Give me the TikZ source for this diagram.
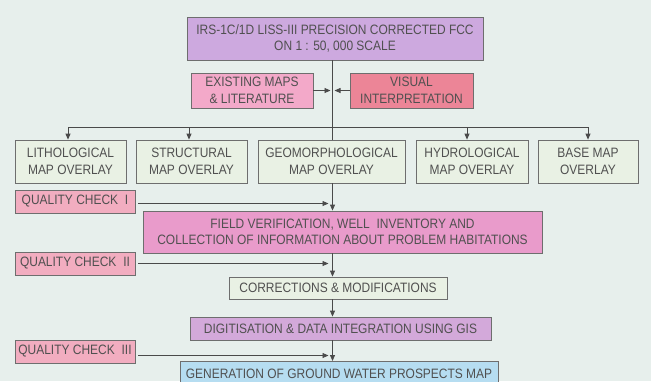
\documentclass[tikz,border=0pt]{standalone}
\usepackage{fontspec}
\setmainfont{Liberation Sans}[FakeStretch=0.88]
\usetikzlibrary{arrows.meta}
\definecolor{bg}{HTML}{E7EFEC}
\definecolor{lav}{HTML}{CDA9DF}
\definecolor{pinkA}{HTML}{F3A9C9}
\definecolor{redA}{HTML}{EC8597}
\definecolor{pale}{HTML}{E9F1E4}
\definecolor{qcpink}{HTML}{F2ADC0}
\definecolor{fieldc}{HTML}{E99BCB}
\definecolor{digi}{HTML}{D3A9DA}
\definecolor{genb}{HTML}{B6DDF1}
\definecolor{ink}{HTML}{4A4A4A}
\definecolor{txt}{HTML}{505050}
\tikzset{
  box/.style={draw=ink!80, line width=0.8pt, inner sep=0pt, align=center,
    text=txt, font=\fontsize{13.6}{16.5}\selectfont},
  conn/.style={draw=ink, line width=0.8pt},
  arr/.style={conn, -{Triangle[length=6pt,width=5pt]}},
}
\begin{document}
\begin{tikzpicture}[x=1pt,y=-1pt]
\useasboundingbox[fill=bg] (0,0) rectangle (651,381);
\begin{scope}
\clip (0,0) rectangle (651,381);
\node[box, fill=lav, minimum width=296pt, minimum height=43pt] (top) at (335,38.5)
  {IRS-1C/1D LISS-III PRECISION CORRECTED FCC\\ON 1 : 50, 000 SCALE};
\node[box, fill=pinkA, minimum width=122pt, minimum height=35pt] (exist) at (252,90.5)
  {EXISTING MAPS\\\& LITERATURE};
\node[box, fill=redA, minimum width=123pt, minimum height=35pt] (visual) at (411.5,90.5)
  {VISUAL\\INTERPRETATION};
\node[box, fill=pale, minimum width=111pt, minimum height=43pt] (litho) at (70.5,161.5)
  {LITHOLOGICAL\\MAP OVERLAY};
\node[box, fill=pale, minimum width=111pt, minimum height=43pt] (struct) at (191.5,161.5)
  {STRUCTURAL\\MAP OVERLAY};
\node[box, fill=pale, minimum width=147pt, minimum height=43pt] (geo) at (331.5,161.5)
  {GEOMORPHOLOGICAL\\MAP OVERLAY};
\node[box, fill=pale, minimum width=112pt, minimum height=43pt] (hydro) at (472,161.5)
  {HYDROLOGICAL\\MAP OVERLAY};
\node[box, fill=pale, minimum width=100pt, minimum height=43pt] (base) at (588,161.5)
  {BASE MAP\\OVERLAY};
\node[box, fill=qcpink, minimum width=120pt, minimum height=23pt] (qc1) at (75,201.5)
  {QUALITY CHECK\enspace I};
\node[box, fill=fieldc, minimum width=399pt, minimum height=42pt] (field) at (342.5,232)
  {FIELD VERIFICATION, WELL\enspace INVENTORY AND\\COLLECTION OF INFORMATION ABOUT PROBLEM HABITATIONS};
\node[box, fill=qcpink, minimum width=120pt, minimum height=23pt] (qc2) at (75,263.5)
  {QUALITY CHECK\enspace II};
\node[box, fill=pale, minimum width=218pt, minimum height=22pt] (corr) at (338,288)
  {CORRECTIONS \& MODIFICATIONS};
\node[box, fill=digi, minimum width=301pt, minimum height=23pt] (digi) at (340.5,328.5)
  {DIGITISATION \& DATA INTEGRATION USING GIS};
\node[box, fill=qcpink, minimum width=120pt, minimum height=23pt] (qc3) at (75,351.5)
  {QUALITY CHECK\enspace III};
\node[box, fill=genb, minimum width=318pt, minimum height=25pt, anchor=north] (gen) at (339,361)
  {GENERATION OF GROUND WATER PROSPECTS MAP};
\end{scope}
% trunk
\coordinate (t0) at (332.5,60);
\coordinate (hl) at (68,127);
\coordinate (hs) at (189,127);
\coordinate (hc) at (332.5,127);
\coordinate (hh) at (467,127);
\coordinate (hb) at (588,127);
\draw[conn] (t0) -- (t0 |- geo.north);
\draw[arr] (exist.east) -- ([xshift=-2pt]t0 |- exist.east);
\draw[arr] (visual.west) -- ([xshift=2pt]t0 |- visual.east);
\draw[conn] (hl) -- (hb);
\draw[arr] (hl) -- (hl |- litho.north);
\draw[arr] (hs) -- (hs |- struct.north);
\draw[arr] (hh) -- (hh |- hydro.north);
\draw[arr] (hb) -- (hb |- base.north);
% quality checks and main flow
\draw[arr] ([xshift=3pt,yshift=-2pt]qc1.east) -- ([xshift=-4pt,yshift=-2pt]t0 |- qc1.east);
\draw[arr] (t0 |- geo.south) -- (t0 |- field.north);
\draw[arr] ([xshift=3pt]qc2.east) -- ([xshift=-4pt]t0 |- qc2.east);
\draw[arr] (t0 |- field.south) -- (t0 |- corr.north);
\draw[arr] (t0 |- corr.south) -- (t0 |- digi.north);
\draw[arr] ([xshift=3pt,yshift=-4pt]qc3.east) -- ([xshift=-4pt,yshift=-4pt]t0 |- qc3.east);
\draw[arr] (t0 |- digi.south) -- (t0 |- gen.north);
\end{tikzpicture}
\end{document}
